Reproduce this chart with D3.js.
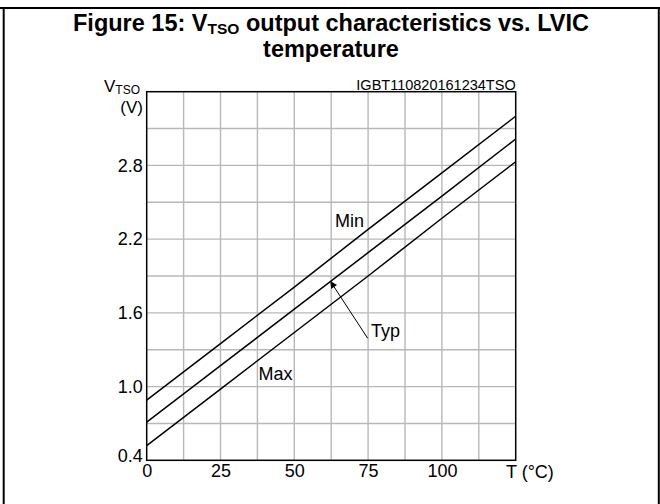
<!DOCTYPE html>
<html>
<head>
<meta charset="utf-8">
<script src="https://cdn.jsdelivr.net/npm/d3@7"></script>
<style>
  body { margin: 0; background: #fff; }
  text { font-family: Arial, "Liberation Sans", sans-serif; }
</style>
</head>
<body>
<script>
// data
const temps = [0, 25, 50, 75, 100, 125]
const vMin = [0.89, 1.35, 1.81, 2.28, 2.74, 3.20]
const vTyp = [0.71, 1.17, 1.63, 2.09, 2.55, 3.015]
const vMax = [0.52, 0.98, 1.44, 1.90, 2.37, 2.83]
const xTicks = [0, 25, 50, 75, 100]
const yTicks = [0.4, 1.0, 1.6, 2.2, 2.8]

const W = 660, H = 504
const plotL = 146.7, plotR = 515.7, plotT = 91.7, plotB = 460.3

const svg = d3.select('body').append('svg')
    .attr('width', W)
    .attr('height', H)

// frame
svg.append('line').attr('x1', 0).attr('x2', W).attr('y1', 8).attr('y2', 8)
    .attr('stroke', '#000').attr('stroke-width', 2)
svg.append('line').attr('x1', 3.7).attr('x2', 3.7).attr('y1', 8).attr('y2', H)
    .attr('stroke', '#000').attr('stroke-width', 2)
svg.append('line').attr('x1', 658.8).attr('x2', 658.8).attr('y1', 8).attr('y2', H)
    .attr('stroke', '#000').attr('stroke-width', 2)

// title
const title = svg.append('text')
    .attr('x', 331).attr('y', 30.5)
    .attr('text-anchor', 'middle')
    .attr('font-size', 23.5).attr('font-weight', 'bold')
title.append('tspan').text('Figure 15: V')
title.append('tspan').attr('font-size', 15.5).attr('dy', 3).text('TSO')
title.append('tspan').attr('dy', -3).text(' output characteristics vs. LVIC')
svg.append('text')
    .attr('x', 331).attr('y', 57)
    .attr('text-anchor', 'middle')
    .attr('font-size', 23.5).attr('font-weight', 'bold')
    .text('temperature')

const x = d3.scaleLinear().domain([0, 125]).range([plotL, plotR])
const y = d3.scaleLinear().domain([0.4, 3.4]).range([plotB, plotT])

// grid
const g = svg.append('g')
g.selectAll('.vg').data(d3.range(12.5, 125, 12.5)).enter().append('line')
    .attr('x1', d => x(d)).attr('x2', d => x(d))
    .attr('y1', plotT).attr('y2', plotB)
    .attr('stroke', '#b8b8b8').attr('stroke-width', 1.4)
g.selectAll('.hg').data(d3.range(0.7, 3.35, 0.3)).enter().append('line')
    .attr('x1', plotL).attr('x2', plotR)
    .attr('y1', d => y(d)).attr('y2', d => y(d))
    .attr('stroke', '#b8b8b8').attr('stroke-width', 1.4)

svg.append('rect')
    .attr('x', plotL).attr('y', plotT)
    .attr('width', plotR - plotL).attr('height', plotB - plotT)
    .attr('fill', 'none').attr('stroke', '#000').attr('stroke-width', 1.5)

// axes (labels only)
const xAxis = svg.append('g')
    .attr('transform', `translate(0,${plotB})`)
    .call(d3.axisBottom(x).tickValues(xTicks).tickSize(0).tickPadding(4).tickFormat(d3.format('d')))
xAxis.select('.domain').remove()
xAxis.selectAll('text').attr('font-size', 18).attr('fill', '#000')
    .attr('font-family', 'Arial, "Liberation Sans", sans-serif')

const yAxis = svg.append('g')
    .attr('transform', `translate(${plotL},0)`)
    .call(d3.axisLeft(y).tickValues(yTicks).tickSize(0).tickPadding(4).tickFormat(d3.format('.1f')))
yAxis.select('.domain').remove()
yAxis.selectAll('text').attr('font-size', 18).attr('fill', '#000')
    .attr('font-family', 'Arial, "Liberation Sans", sans-serif')
yAxis.selectAll('.tick').filter(d => d === 0.4).select('text').attr('dy', '0.05em')

svg.append('text').attr('x', 506).attr('y', 478).attr('font-size', 18).text('T (°C)')

const yl = svg.append('text').attr('x', 104).attr('y', 92).attr('font-size', 17)
yl.append('tspan').text('V')
yl.append('tspan').attr('font-size', 12).attr('dy', 2).text('TSO')
svg.append('text').attr('x', 143).attr('y', 112.5).attr('text-anchor', 'end')
    .attr('font-size', 17).text('(V)')

svg.append('text').attr('x', plotR).attr('y', 89.5).attr('text-anchor', 'end')
    .attr('font-size', 14.5).text('IGBT110820161234TSO')

// curves
const line = d3.line().x((d, i) => x(temps[i])).y(d => y(d))
;[vMin, vTyp, vMax].forEach(s => {
  svg.append('path').datum(s).attr('d', line)
      .attr('fill', 'none').attr('stroke', '#000').attr('stroke-width', 1.5)
})

// labels
svg.append('text').attr('x', 335).attr('y', 226.5).attr('font-size', 18).text('Min')
svg.append('text').attr('x', 371).attr('y', 337).attr('font-size', 18).text('Typ')
svg.append('text').attr('x', 258.5).attr('y', 379.5).attr('font-size', 18).text('Max')

svg.append('defs').append('marker')
    .attr('id', 'ah').attr('viewBox', '0 0 10 10')
    .attr('refX', 9).attr('refY', 5)
    .attr('markerWidth', 9).attr('markerHeight', 7)
    .attr('markerUnits', 'userSpaceOnUse')
    .attr('orient', 'auto')
    .append('path').attr('d', 'M0,0L10,5L0,10Z').attr('fill', '#000')
svg.append('line')
    .attr('x1', 367.7).attr('y1', 338.3)
    .attr('x2', 330.7).attr('y2', 281.7)
    .attr('stroke', '#000').attr('stroke-width', 1)
    .attr('marker-end', 'url(#ah)')
</script>
</body>
</html>
